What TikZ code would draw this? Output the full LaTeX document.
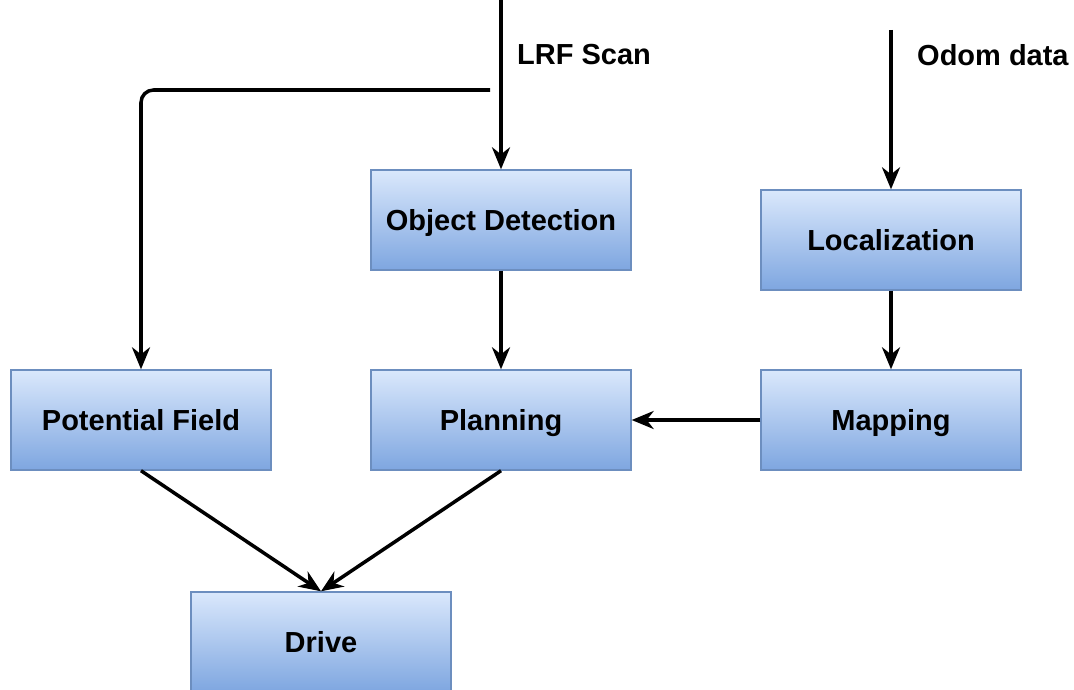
\documentclass[tikz,border=0pt]{standalone}
\usepackage{fontspec}
\setmainfont{Liberation Sans}
\usetikzlibrary{arrows.meta}
\definecolor{boxtop}{HTML}{DAE8FC}
\definecolor{boxbot}{HTML}{7EA6E0}
\definecolor{boxline}{HTML}{6C8EBF}
\tikzset{
  block/.style={draw=boxline, line width=0.8pt, top color=boxtop, bottom color=boxbot,
    minimum width=5.2cm, minimum height=2cm, text height=12.4pt, text depth=0pt,
    font=\fontsize{16.5}{19}\selectfont\bfseries},
  flow/.style={line width=2pt, -{Stealth[length=0.44cm,width=0.36cm,inset=0.14cm]}},
  tag/.style={anchor=west, font=\fontsize{16.5}{19}\selectfont\bfseries},
}
\begin{document}
\begin{tikzpicture}[x=0.02cm,y=-0.02cm]
\useasboundingbox (0,0) rectangle (1074,689);
\node[block] (objdet) at (501,220) {Object Detection};
\node[block] (local) at (891,240) {Localization};
\node[block] (potfield) at (141,420) {Potential Field};
\node[block] (plan) at (501,420) {Planning};
\node[block] (map) at (891,420) {Mapping};
\node[block] (drive) at (321,642) {Drive};
\coordinate (lrfin) at (501,0);
\coordinate (split) at (490,90);
\coordinate (odomin) at (891,30);
\node[tag] (lrftag) at (511,55) {LRF Scan};
\node[tag] (odomtag) at (911,55) {Odom data};
\draw[flow] (lrfin) -- (objdet);
\draw[flow, rounded corners=0.25cm] (split) -| (potfield.north);
\draw[flow] (odomin) -- (local);
\draw[flow] (objdet) -- (plan);
\draw[flow] (local) -- (map);
\draw[flow] (map) -- (plan);
\draw[flow] (potfield.south) -- (drive.north);
\draw[flow] (plan.south) -- (drive.north);
\end{tikzpicture}
\end{document}
